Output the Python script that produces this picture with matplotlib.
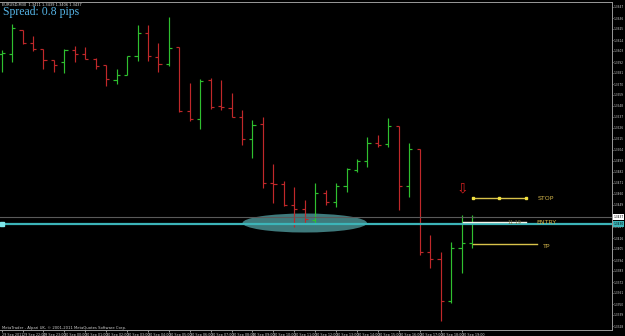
import matplotlib
matplotlib.use("Agg")
import matplotlib.pyplot as plt
from matplotlib.patches import Ellipse
from matplotlib.transforms import blended_transform_factory

# M30 bars, EURUSD, 29 Sep 21:00 -> 30 Sep 19:30
OPEN = [1.3600, 1.3600, 1.3624, 1.3611, 1.3605, 1.3594, 1.3592, 1.3604, 1.3600, 1.3595,
        1.3589, 1.3574, 1.3579, 1.3598, 1.3621, 1.3597, 1.3590, 1.3607, 1.3543, 1.3535,
        1.3574, 1.3548, 1.3546, 1.3537, 1.3515, 1.3530, 1.3471, 1.3470, 1.3449, 1.3445,
        1.3434, 1.3461, 1.3452, 1.3468, 1.3484, 1.3493, 1.3511, 1.3510, 1.3528, 1.3468,
        1.3505, 1.3402, 1.3395, 1.3353, 1.3406, 1.3411]
HIGH = [1.3604, 1.3630, 1.3624, 1.3618, 1.3605, 1.3594, 1.3605, 1.3608, 1.3607, 1.3596,
        1.3589, 1.3585, 1.3598, 1.3629, 1.3629, 1.3611, 1.3637, 1.3607, 1.3571, 1.3575,
        1.3576, 1.3574, 1.3561, 1.3544, 1.3534, 1.3537, 1.3490, 1.3473, 1.3467, 1.3454,
        1.3471, 1.3464, 1.3471, 1.3486, 1.3495, 1.3517, 1.3519, 1.3536, 1.3528, 1.3511,
        1.3505, 1.3419, 1.3402, 1.3412, 1.3439, 1.3439]
LOW = [1.3582, 1.3592, 1.3610, 1.3603, 1.3585, 1.3582, 1.3581, 1.3592, 1.3595, 1.3585,
       1.3568, 1.3570, 1.3579, 1.3593, 1.3593, 1.3582, 1.3588, 1.3542, 1.3533, 1.3525,
       1.3545, 1.3544, 1.3537, 1.3509, 1.3496, 1.3466, 1.3451, 1.3448, 1.3427, 1.3430,
       1.3430, 1.3449, 1.3447, 1.3462, 1.3482, 1.3487, 1.3507, 1.3507, 1.3444, 1.3457,
       1.3399, 1.3386, 1.3333, 1.3351, 1.3381, 1.3406]
CLOSE = [1.3601, 1.3626, 1.3611, 1.3605, 1.3594, 1.3589, 1.3604, 1.3600, 1.3595, 1.3588,
         1.3575, 1.3579, 1.3598, 1.3621, 1.3598, 1.3590, 1.3606, 1.3543, 1.3535, 1.3573,
         1.3547, 1.3547, 1.3537, 1.3515, 1.3529, 1.3471, 1.3470, 1.3449, 1.3445, 1.3435,
         1.3461, 1.3452, 1.3468, 1.3485, 1.3493, 1.3511, 1.3509, 1.3528, 1.3468, 1.3505,
         1.3402, 1.3395, 1.3353, 1.3406, 1.3411, 1.3437]

TIME_LABELS = ["29 Sep 2011", "29 Sep 22:00", "29 Sep 23:00", "30 Sep 00:00",
               "30 Sep 01:00", "30 Sep 02:00", "30 Sep 03:00", "30 Sep 04:00",
               "30 Sep 05:00", "30 Sep 06:00", "30 Sep 07:00", "30 Sep 08:00",
               "30 Sep 09:00", "30 Sep 10:00", "30 Sep 11:00", "30 Sep 12:00",
               "30 Sep 13:00", "30 Sep 14:00", "30 Sep 15:00", "30 Sep 16:00",
               "30 Sep 17:00", "30 Sep 18:00", "30 Sep 19:00"]

HLINE_PRICE = 1.3430
STOP_PRICE = 1.3456
ENTRY_PRICE = 1.3432
TP_PRICE = 1.3410
ARROW_PRICE = 1.3466
PIPS_TEXT = "11.19"
SPREAD = 0.8

Y_TICKS = [round(1.3647 - 0.0011 * k, 4) for k in range(30)]

BULL = "#2fbf2f"
BEAR = "#c0282a"
TEAL = "#3cb4b8"
GOLD = "#d2b44a"

fig = plt.figure(figsize=(6.25, 3.36), dpi=100, facecolor="black")
ax = fig.add_axes([0, 6 / 336, 612 / 625, 328 / 336], facecolor="black")

# bars
for i in range(len(OPEN)):
    col = BULL if CLOSE[i] > OPEN[i] else BEAR
    ax.vlines(i, LOW[i], HIGH[i], color=col, lw=0.85)
    ax.hlines(OPEN[i], i - 0.3, i, color=col, lw=0.85)
    ax.hlines(CLOSE[i], i, i + 0.3, color=col, lw=0.85)

ax.set_xlim(-0.16, 58.4)
ax.set_ylim(1.3324, 1.3652)

# bid line and horizontal line
ax.axhline(CLOSE[-1], color="#5a5a5a", lw=0.8)
ax.axhline(HLINE_PRICE, color=TEAL, lw=1.6)
ax.plot([0.0], [HLINE_PRICE], marker="s", ms=2.2, color="#7fe8ec", clip_on=False)

ell = Ellipse((29.0, 1.3431), 11.9, 0.0019, facecolor="#4a9093", edgecolor="none", alpha=0.85)
ax.add_patch(ell)

# trade levels
ax.plot([45.07, 50.17], [STOP_PRICE, STOP_PRICE], color="#d8c24a", lw=1.0)
ax.plot([45.07, 47.6, 50.17], [STOP_PRICE] * 3, "s", color="#f0e040", ms=1.8)
ax.plot([44.1, 50.17], [ENTRY_PRICE, ENTRY_PRICE], color="#f4f4e8", lw=1.0)
ax.plot([45.07, 51.2], [TP_PRICE, TP_PRICE], color="#d8c24a", lw=1.0)
ax.text(48.4, ENTRY_PRICE - 0.0001, PIPS_TEXT, color="#6e6a3a", fontsize=3.5, va="center")
ax.text(51.3, STOP_PRICE - 0.0001, "STOP", color=GOLD, fontsize=4.5, va="center")
ax.text(51.15, ENTRY_PRICE - 0.0001, "ENTRY", color=GOLD, fontsize=4.5, va="center")
ax.text(51.8, TP_PRICE - 0.0003, "TP", color=GOLD, fontsize=4.5, va="center")
ax.text(44.05, ARROW_PRICE, "\u21e9", color="#d02020", fontsize=10, ha="center", va="center")

# axes styling
ax.spines["left"].set_visible(False)
for side in ["top", "right", "bottom"]:
    ax.spines[side].set_color("#9a9a9a")
    ax.spines[side].set_linewidth(0.7)

ax.yaxis.tick_right()
ax.set_yticks(Y_TICKS)
ax.set_yticklabels([f"{v:.4f}" for v in Y_TICKS])
ax.tick_params(axis="y", colors="#d0d0d0", labelsize=2.1, length=1.0, width=0.5, pad=0.4)
ax.set_xticks(range(0, 2 * len(TIME_LABELS), 2))
ax.set_xticklabels(TIME_LABELS, ha="left")
ax.tick_params(axis="x", colors="#d0d0d0", labelsize=2.4, length=1.5, width=0.5, pad=0.5)

# price boxes on the axis
tr = blended_transform_factory(ax.transAxes, ax.transData)
ax.text(1.002, CLOSE[-1], f"{CLOSE[-1]:.4f}", transform=tr, fontsize=2.1, color="black",
        va="center", bbox=dict(facecolor="white", edgecolor="none", pad=0.5))
ax.text(1.002, HLINE_PRICE, f"{HLINE_PRICE:.4f}", transform=tr, fontsize=2.1, color="black",
        va="center", bbox=dict(facecolor=TEAL, edgecolor="none", pad=0.5))

# header / footer texts
fig.text(2 / 625, 1 - 4.5 / 336,
         f"EURUSD,M30  {OPEN[-1]:.4f} {HIGH[-1]:.4f} {LOW[-1]:.4f} {CLOSE[-1]:.4f}",
         color="#e0e0e0", fontsize=2.6, va="center")
fig.text(3 / 625, 1 - 12 / 336, f"Spread: {SPREAD} pips", color="#55b4e6",
         fontsize=8.5, family="Liberation Serif", va="center")
fig.text(2 / 625, 1 - 327.5 / 336,
         "MetaTrader - Alpari UK, \u00a9 2001-2011 MetaQuotes Software Corp.",
         color="#d0d0d0", fontsize=2.7, va="center")

fig.savefig("out.png", dpi=100, facecolor="black")
